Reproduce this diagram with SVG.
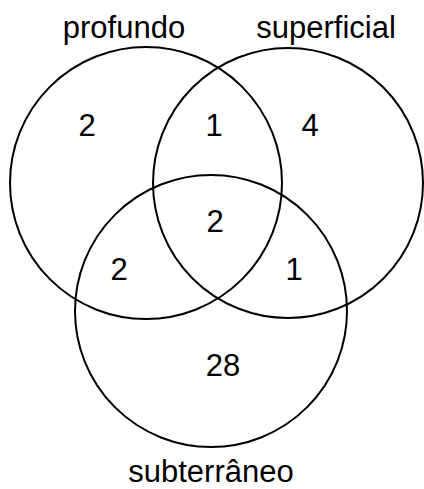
<svg xmlns="http://www.w3.org/2000/svg" width="424" height="489" viewBox="0 0 424 489">
<style>
.c{fill:none;stroke:#000;stroke-width:2}
text{font-family:"Liberation Sans",Arial,sans-serif;font-size:31px;fill:#000;text-anchor:middle}
</style>
<rect width="424" height="489" fill="#fff"/>
<g id="profundo"><circle class="c" cx="146" cy="183" r="136"/><text x="124" y="38">profundo</text></g>
<g id="superficial"><circle class="c" cx="288" cy="183" r="135"/><text x="326" y="38">superficial</text></g>
<g id="subterraneo"><circle class="c" cx="211" cy="311" r="136"/><text x="211" y="482">subterrâneo</text></g>
<g id="counts">
<text x="87" y="136">2</text>
<text x="214" y="136">1</text>
<text x="310" y="136">4</text>
<text x="215" y="232">2</text>
<text x="119" y="280">2</text>
<text x="294" y="280">1</text>
<text x="223" y="376">28</text>
</g>
</svg>
